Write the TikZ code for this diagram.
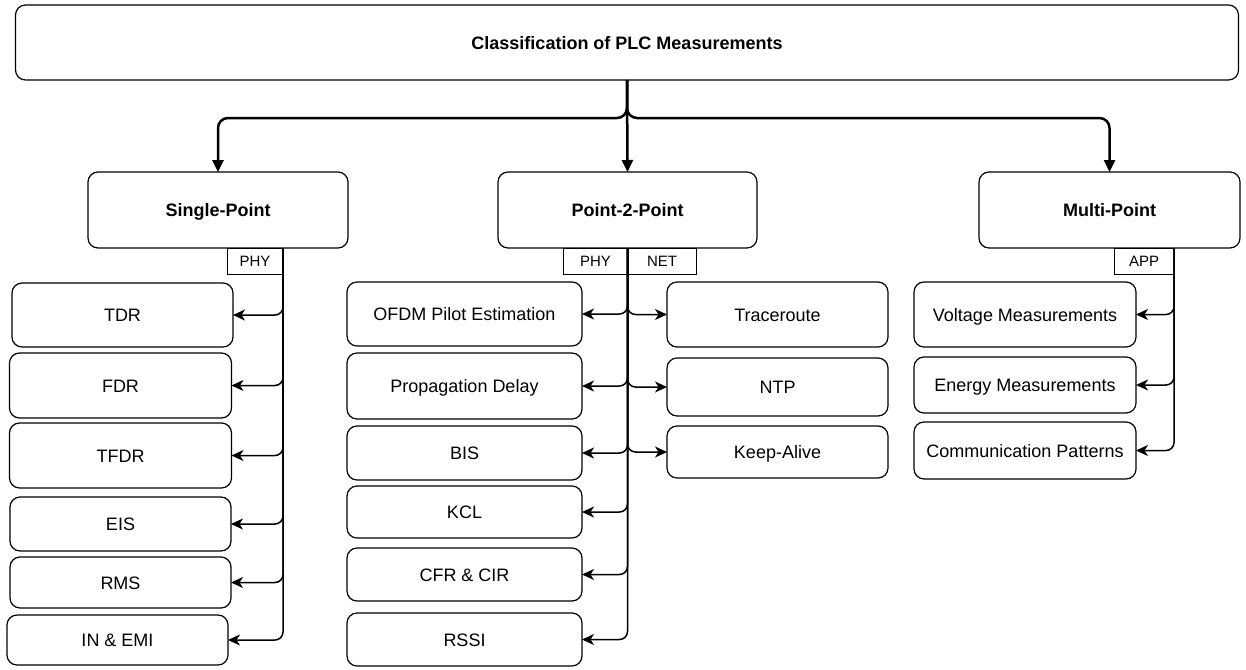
\documentclass[tikz,border=0pt]{standalone}
\usepackage{fontspec}
\setmainfont{Liberation Sans}
\usetikzlibrary{arrows.meta}
\begin{document}
\begin{tikzpicture}[x=1pt,y=-1pt,
  box/.style={draw, rounded corners=10pt, line width=1.2pt, inner sep=0pt, outer sep=0pt,
    align=center, text height=13pt, text depth=0pt, font=\fontsize{18}{21}\selectfont},
  hbox/.style={box, font=\fontsize{18}{21}\selectfont\bfseries},
  tab/.style={draw, line width=1pt, inner sep=0pt, outer sep=0pt, minimum height=26pt,
    text height=11pt, text depth=0pt, font=\fontsize{15}{17}\selectfont},
  arr/.style={-{Stealth[length=12pt,width=11pt,inset=3.5pt]}, line width=1.5pt, rounded corners=8pt},
  mainarr/.style={-{Triangle[length=12pt,width=11pt]}, line width=2.5pt, rounded corners=10pt}]
\useasboundingbox (0,0) rectangle (1246,669);
\fill[white] (0,0) rectangle (1246,669);

% top
\node[hbox, minimum width=1223pt, minimum height=75pt] (top) at (627,42.5) {Classification of PLC Measurements};

% level 1
\node[hbox, minimum width=260pt, minimum height=76pt] (sp) at (218,210) {Single-Point};
\node[hbox, minimum width=259pt, minimum height=76pt] (pp) at (627.5,210) {Point-2-Point};
\node[hbox, minimum width=261pt, minimum height=76pt] (mp) at (1109.5,210) {Multi-Point};

% tabs
\node[tab, minimum width=56pt] (tsp) at (255,261) {PHY};
\node[tab, minimum width=65pt] (tpphy) at (595.5,261) {PHY};
\node[tab, minimum width=68pt] (tpnet) at (662,261) {NET};
\node[tab, minimum width=60pt] (tmp) at (1144,261) {APP};

% single-point children
\node[box, minimum width=221pt, minimum height=64pt] (tdr) at (122.5,315) {TDR};
\node[box, minimum width=222pt, minimum height=65pt] (fdr) at (120.5,385.5) {FDR};
\node[box, minimum width=222pt, minimum height=65pt] (tfdr) at (120.5,455.5) {TFDR};
\node[box, minimum width=221pt, minimum height=54pt] (eis) at (120.5,524) {EIS};
\node[box, minimum width=221pt, minimum height=51pt] (rms) at (120.5,582.5) {RMS};
\node[box, minimum width=221pt, minimum height=50pt] (inemi) at (117.5,640) {IN \& EMI};

% point-2-point children (left)
\node[box, minimum width=235pt, minimum height=64pt] (ofdm) at (464.5,314) {OFDM Pilot Estimation};
\node[box, minimum width=235pt, minimum height=66pt] (prop) at (464.5,386) {Propagation Delay};
\node[box, minimum width=235pt, minimum height=54pt] (bis) at (464.5,453) {BIS};
\node[box, minimum width=235pt, minimum height=52pt] (kcl) at (464.5,512) {KCL};
\node[box, minimum width=235pt, minimum height=53pt] (cfr) at (464.5,574.5) {CFR \& CIR};
\node[box, minimum width=235pt, minimum height=53pt] (rssi) at (464.5,639.5) {RSSI};

% point-2-point children (right)
\node[box, minimum width=221pt, minimum height=65pt] (trace) at (777.5,314.5) {Traceroute};
\node[box, minimum width=221pt, minimum height=58pt] (ntp) at (777.5,387) {NTP};
\node[box, minimum width=221pt, minimum height=52pt] (keep) at (777.5,452) {Keep-Alive};

% multi-point children
\node[box, minimum width=222pt, minimum height=65pt] (volt) at (1025,314.5) {Voltage Measurements};
\node[box, minimum width=222pt, minimum height=56pt] (energy) at (1025,385) {Energy Measurements};
\node[box, minimum width=222pt, minimum height=57pt] (comm) at (1025,450.5) {Communication Patterns};

% main connectors
\draw[mainarr] (top.south) -- ++(0,38) -| (sp.north);
\draw[mainarr] (top.south) -- (pp.north);
\draw[mainarr] (top.south) -- ++(0,38) -| (mp.north);

% single-point connectors
\foreach \c in {tdr,fdr,tfdr,eis,rms,inemi}
  \draw[arr] (tsp.north east) |- (\c.east);

% point-2-point connectors
\foreach \c in {ofdm,prop,bis,kcl,cfr,rssi}
  \draw[arr] (pp.south) |- (\c.east);
\foreach \c in {trace,ntp,keep}
  \draw[arr] (pp.south) |- (\c.west);

% multi-point connectors
\foreach \c in {volt,energy,comm}
  \draw[arr] (tmp.north east) |- (\c.east);
\end{tikzpicture}
\end{document}
